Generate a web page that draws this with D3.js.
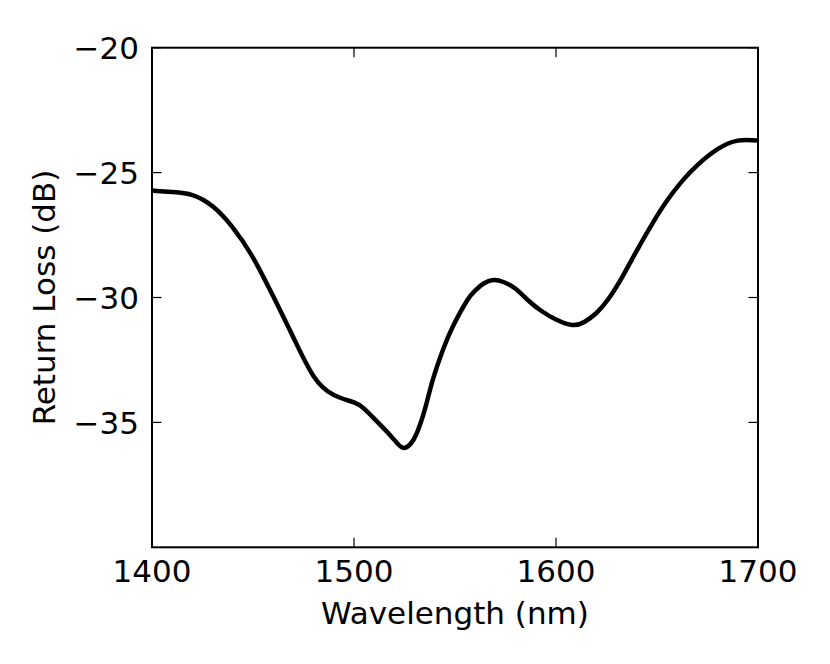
<!DOCTYPE html>
<html>
<head>
<meta charset="utf-8">
<script src="https://cdn.jsdelivr.net/npm/d3@7"></script>
<style>
  html, body { margin: 0; padding: 0; background: #fff; }
  svg { display: block; }
  text { font-family: "DejaVu Sans", sans-serif; fill: #000; }
</style>
</head>
<body>
<svg id="chart" width="830" height="664"></svg>
<script>
const wavelength = [1400,1410,1420,1430,1440,1450,1460,1470,1480,1490,1500,1505,1510,1514,1518,1521,1524.5,1528,1531,1535,1539,1544,1549,1556,1560,1564,1569,1574,1580,1586,1593,1600,1608,1614,1620,1626,1633,1640,1648,1655,1662,1670,1680,1690,1700];
const returnLoss = [-25.72,-25.78,-25.9,-26.35,-27.2,-28.4,-29.95,-31.6,-33.15,-33.9,-34.2,-34.45,-34.85,-35.18,-35.52,-35.8,-36.02,-35.86,-35.45,-34.5,-33.3,-32.1,-31.15,-30.12,-29.72,-29.45,-29.3,-29.38,-29.65,-30.1,-30.55,-30.88,-31.1,-30.98,-30.62,-30.05,-29.15,-28.12,-27.0,-26.12,-25.38,-24.7,-24.06,-23.72,-23.72];
const xTicks = [1400,1500,1600,1700];
const yTicks = [-20,-25,-30,-35];
const xDomain = [1400,1700];
const yDomain = [-40,-20];

const svg = d3.select("#chart");
const L = 152, R = 758, T = 47.7, B = 547.3;
const x = d3.scaleLinear().domain(xDomain).range([L, R]);
const y = d3.scaleLinear().domain(yDomain).range([B, T]);
const tickLen = 9.5;
const fs = 31;
const fmt = d => (d < 0 ? "\u2212" + Math.abs(d) : String(d));

const data = wavelength.map((w, i) => ({w, v: returnLoss[i]}));

svg.append("defs").append("clipPath").attr("id","clip")
  .append("rect").attr("x", L).attr("y", T).attr("width", R-L).attr("height", B-T);

svg.append("path")
  .datum(data)
  .attr("clip-path","url(#clip)")
  .attr("fill","none")
  .attr("stroke","#000")
  .attr("stroke-width",4.5)
  .attr("stroke-linejoin","round")
  .attr("d", d3.line().x(d => x(d.w)).y(d => y(d.v)).curve(d3.curveNatural));

// ticks (inward, mirrored)
const g = svg.append("g").attr("stroke","#000").attr("stroke-width",1.2);
xTicks.forEach(t => {
  g.append("line").attr("x1",x(t)).attr("x2",x(t)).attr("y1",B).attr("y2",B-tickLen);
  g.append("line").attr("x1",x(t)).attr("x2",x(t)).attr("y1",T).attr("y2",T+tickLen);
});
yTicks.forEach(t => {
  g.append("line").attr("x1",L).attr("x2",L+tickLen).attr("y1",y(t)).attr("y2",y(t));
  g.append("line").attr("x1",R).attr("x2",R-tickLen).attr("y1",y(t)).attr("y2",y(t));
});

// frame
svg.append("rect").attr("x",L).attr("y",T).attr("width",R-L).attr("height",B-T)
  .attr("fill","none").attr("stroke","#000").attr("stroke-width",2);

// tick labels
svg.selectAll(".xt").data(xTicks).enter().append("text")
  .attr("x", d => x(d)).attr("y", 582)
  .attr("text-anchor","middle").attr("font-size",fs)
  .text(fmt);
svg.selectAll(".yt").data(yTicks).enter().append("text")
  .attr("x", 139).attr("y", d => y(d)).attr("dy","0.36em")
  .attr("text-anchor","end").attr("font-size",fs)
  .text(fmt);

// axis titles
svg.append("text").attr("x",(L+R)/2).attr("y",623.5)
  .attr("text-anchor","middle").attr("font-size",fs).text("Wavelength (nm)");
svg.append("text").attr("transform",`translate(54.5,${(T+B)/2}) rotate(-90)`)
  .attr("text-anchor","middle").attr("font-size",fs).text("Return Loss (dB)");
</script>
</body>
</html>
